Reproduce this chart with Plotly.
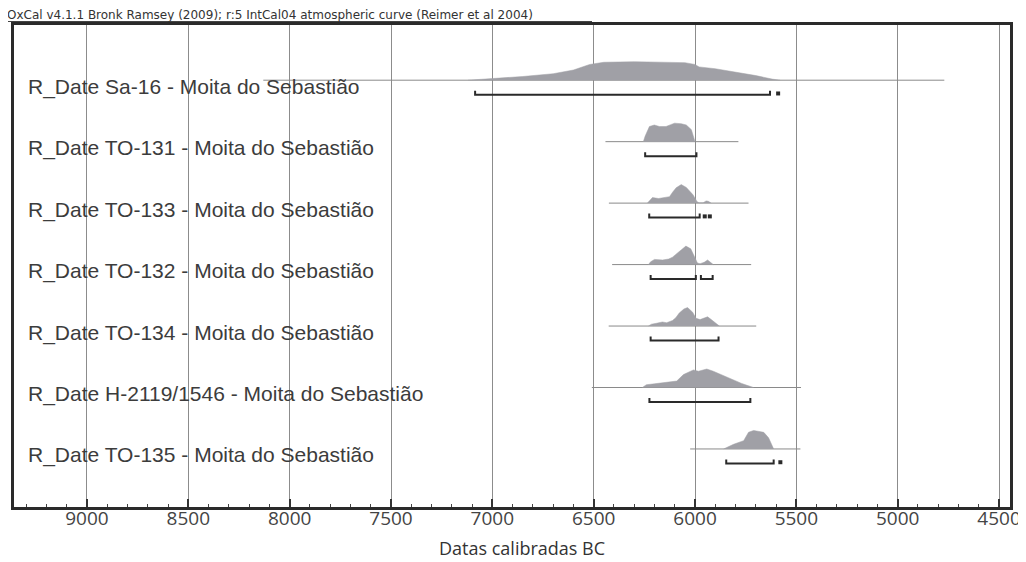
import plotly.graph_objects as go

# ---------------- data ----------------
labels = [
    "R_Date Sa-16 - Moita do Sebastião",
    "R_Date TO-131 - Moita do Sebastião",
    "R_Date TO-133 - Moita do Sebastião",
    "R_Date TO-132 - Moita do Sebastião",
    "R_Date TO-134 - Moita do Sebastião",
    "R_Date H-2119/1546 - Moita do Sebastião",
    "R_Date TO-135 - Moita do Sebastião",
]

# probability density outlines (calendar year BC, relative density)
sa16_years = [7120, 7000, 6850, 6700, 6600, 6520, 6450, 6300, 6150, 6050, 6000, 5980, 5900, 5800, 5700, 5620, 5580]
sa16_dens = [0, 0.08, 0.2, 0.35, 0.55, 0.85, 0.97, 1.0, 0.98, 0.95, 0.85, 0.72, 0.62, 0.45, 0.25, 0.06, 0]

to131_years = [6255, 6246, 6225, 6201, 6176, 6143, 6120, 6101, 6068, 6043, 6018, 6007, 6000]
to131_dens = [0, 0.3, 0.82, 0.9, 0.82, 0.82, 0.92, 1.0, 0.97, 0.9, 0.65, 0.15, 0]

to133_years = [6235, 6223, 6210, 6180, 6150, 6126, 6110, 6093, 6068, 6043, 6010, 5990, 5980, 5960, 5945, 5935, 5920]
to133_dens = [0, 0.15, 0.3, 0.25, 0.3, 0.35, 0.6, 0.83, 1.0, 0.85, 0.45, 0.08, 0.02, 0.02, 0.12, 0.1, 0]

to132_years = [6230, 6219, 6200, 6160, 6130, 6111, 6095, 6078, 6045, 6021, 6004, 5988, 5975, 5955, 5938, 5920, 5910]
to132_dens = [0, 0.15, 0.28, 0.25, 0.3, 0.4, 0.55, 0.72, 1.0, 0.85, 0.45, 0.08, 0.05, 0.12, 0.25, 0.1, 0]

to134_years = [6230, 6215, 6190, 6161, 6140, 6111, 6095, 6078, 6055, 6037, 6012, 5995, 5975, 5955, 5938, 5920, 5900, 5880]
to134_dens = [0, 0.1, 0.15, 0.22, 0.18, 0.3, 0.45, 0.7, 0.92, 1.0, 0.75, 0.42, 0.35, 0.45, 0.5, 0.35, 0.15, 0]

h2119_years = [6260, 6240, 6200, 6150, 6107, 6090, 6057, 6025, 6008, 5983, 5960, 5942, 5910, 5876, 5840, 5810, 5770, 5744, 5711]
h2119_dens = [0, 0.15, 0.2, 0.25, 0.3, 0.35, 0.7, 0.85, 0.95, 0.88, 0.97, 1.0, 0.88, 0.72, 0.55, 0.37, 0.22, 0.12, 0]

to135_years = [5859, 5810, 5760, 5736, 5711, 5686, 5661, 5637, 5620, 5612]
to135_dens = [0, 0.25, 0.45, 0.9, 1.0, 0.97, 0.9, 0.6, 0.15, 0]

# plotted range of each likelihood (thin baseline)
line_start = [8130, 6442, 6425, 6409, 6426, 6509, 6024]
line_end = [4770, 5786, 5736, 5723, 5698, 5477, 5480]

# 95.4% ranges (brackets): list of (from, to) per row
ranges_95 = [
    [(7085, 5630)],
    [(6246, 5993)],
    [(6226, 5977)],
    [(6219, 5996), (5971, 5913)],
    [(6219, 5884)],
    [(6225, 5727)],
    [(5846, 5612)],
]
# tiny range fragments shown as dots
dots_95 = [[5590], [], [5952, 5927], [], [], [], [5579]]

x_ticks = [9000, 8500, 8000, 7500, 7000, 6500, 6000, 5500, 5000, 4500]
x_title = "Datas calibradas BC"
header = "OxCal v4.1.1 Bronk Ramsey (2009); r:5 IntCal04 atmospheric curve (Reimer et al 2004)"

densities = [
    (sa16_years, sa16_dens), (to131_years, to131_dens), (to133_years, to133_dens),
    (to132_years, to132_dens), (to134_years, to134_dens), (h2119_years, h2119_dens),
    (to135_years, to135_dens),
]

# ---------------- layout geometry ----------------
OFF = 8                      # page body margin
W, H = 1026, 562 - OFF
# plot box in screen pixels: x 14..1010, y 25..507
L, T = 14 - OFF, 25 - OFF
R = W - (1010 - OFF)
B = H - (507 - OFF)
PW, PH = W - L - R, H - T - B
ROW = 61.46            # px between rows
FIRST = 80.2           # screen px of first baseline
PEAK = 18.5 / ROW      # density peak height (row units)
BR = 14.5 / ROW        # bracket offset below baseline
HOOK = 4 / ROW

y_top = (25 - FIRST) / ROW
y_bot = (507 - FIRST) / ROW


def px2paper_x(px):
    return (px - OFF - L) / PW


def px2paper_y(py):
    return (H - B - (py - OFF)) / PH


fig = go.Figure()
fill_col = "#a0a0a6"
for k, (yrs, dn) in enumerate(densities):
    fig.add_trace(go.Scatter(x=[line_start[k], line_end[k]], y=[k, k], mode="lines",
                             line=dict(color="#8a8a8a", width=1), hoverinfo="skip", showlegend=False))
    fig.add_trace(go.Scatter(x=yrs, y=[k - PEAK * d for d in dn], mode="lines", fill="toself",
                             fillcolor=fill_col, line=dict(color=fill_col, width=0.5),
                             hoverinfo="skip", showlegend=False))
    for (a, b) in ranges_95[k]:
        yb = k + BR
        fig.add_trace(go.Scatter(x=[a, a, b, b], y=[yb - HOOK, yb, yb, yb - HOOK], mode="lines",
                                 line=dict(color="#2a2a2a", width=2), hoverinfo="skip", showlegend=False))
    if dots_95[k]:
        fig.add_trace(go.Scatter(x=dots_95[k], y=[k + BR - 0.02] * len(dots_95[k]), mode="markers",
                                 marker=dict(symbol="square", size=4, color="#2a2a2a"),
                                 hoverinfo="skip", showlegend=False))

annotations = []
for k, lab in enumerate(labels):
    annotations.append(dict(text=lab, x=px2paper_x(26), xref="paper", y=k + 6.5 / ROW, yref="y",
                            xanchor="left", yanchor="middle", showarrow=False,
                            font=dict(family="Liberation Sans, Arial", size=21, color="#3c3c3c")))
annotations.append(dict(text=header, x=px2paper_x(5), xref="paper", y=px2paper_y(15), yref="paper",
                        xanchor="left", yanchor="middle", showarrow=False,
                        font=dict(family="DejaVu Sans", size=12, color="#333333")))
annotations.append(dict(text=x_title, x=px2paper_x(522), xref="paper", y=px2paper_y(548), yref="paper",
                        xanchor="center", yanchor="middle", showarrow=False,
                        font=dict(family="Open Sans", size=18, color="#333333")))

shapes = [dict(type="line", xref="paper", yref="paper", x0=px2paper_x(3), x1=px2paper_x(592),
               y0=px2paper_y(21.5), y1=px2paper_y(21.5), line=dict(color="#444444", width=1))]

fig.update_layout(
    width=W, height=H,
    margin=dict(l=L, r=R, t=T, b=B),
    paper_bgcolor="white", plot_bgcolor="white",
    annotations=annotations, shapes=shapes,
    xaxis=dict(range=[9360, 4446], tickvals=x_ticks, ticktext=[str(v) for v in x_ticks],
               showgrid=True, gridcolor="#8c8c8c", gridwidth=1,
               showline=True, linecolor="#2a2a2a", linewidth=2.5, mirror=True,
               ticks="inside", ticklen=8, tickwidth=1.5, tickcolor="#333333",
               minor=dict(dtick=100, ticks="inside", ticklen=3, tickwidth=1, tickcolor="#444444", showgrid=False),
               tickfont=dict(family="Open Sans", size=19, color="#444444"),
               ticklabelstandoff=-8,
               zeroline=False, fixedrange=True),
    yaxis=dict(range=[y_bot, y_top], showgrid=False, showticklabels=False, ticks="",
               showline=True, linecolor="#2a2a2a", linewidth=2.5, mirror=True, zeroline=False),
)

fig.write_html("out.html")
